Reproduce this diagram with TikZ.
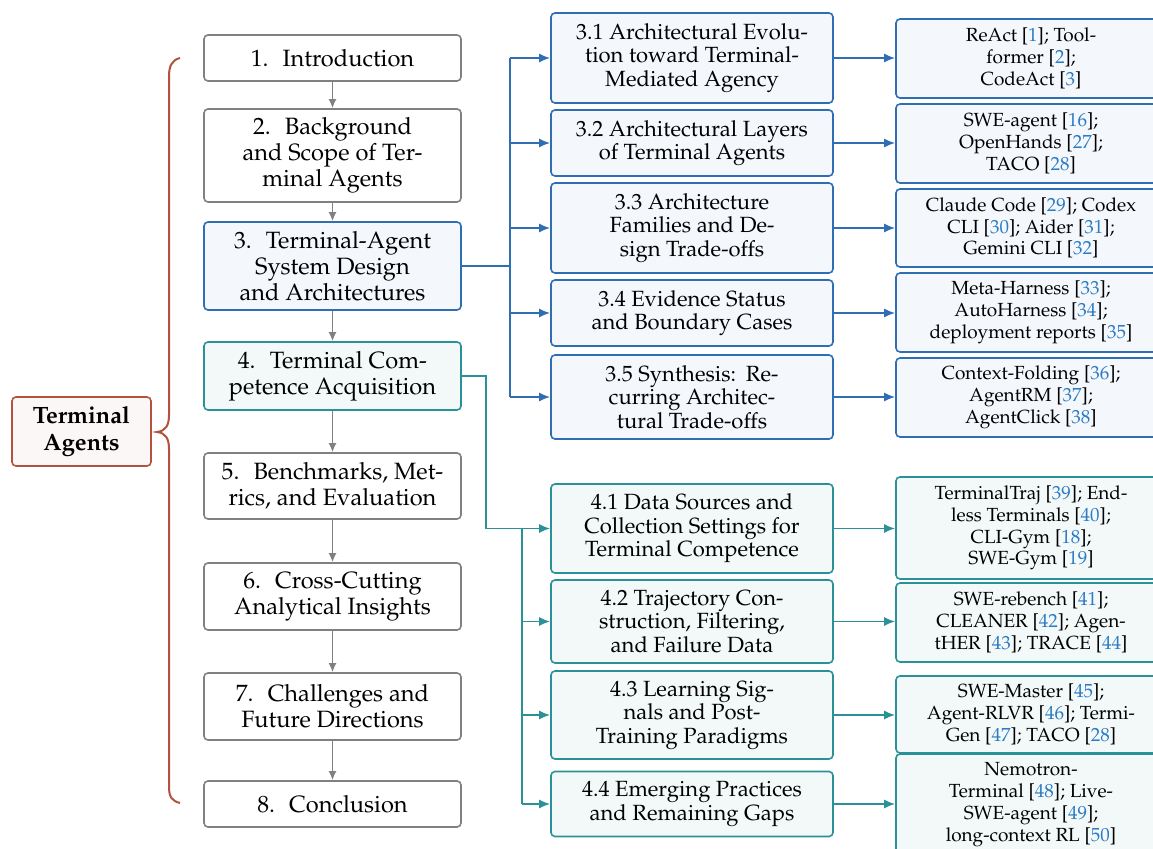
\documentclass[tikz,border=0pt]{standalone}
\usepackage[T1]{fontenc}
\usepackage{mathpazo}
\usetikzlibrary{arrows.meta}

\definecolor{grayline}{HTML}{808080}
\definecolor{blueline}{HTML}{2F6EB2}
\definecolor{bluefill}{HTML}{F4F8FD}
\definecolor{tealline}{HTML}{2A9199}
\definecolor{tealfill}{HTML}{F3F9F9}
\definecolor{rootline}{HTML}{B3533F}
\definecolor{rootfill}{HTML}{FBF7F6}
\definecolor{citeblue}{HTML}{2C7BC4}

\newcommand{\rf}[1]{[\textcolor{citeblue}{#1}]}
\newcommand{\numgap}{\hspace{0.6em}}

\begin{document}
\begin{tikzpicture}[x=0.5pt,y=-0.5pt,
  box/.style={rectangle, rounded corners=2pt, line width=0.8pt, align=center, inner sep=0pt},
  mainbox/.style={box, draw=grayline, fill=white, minimum width=128.5pt, font=\fontsize{11.8}{13}\selectfont},
  bluemain/.style={mainbox, draw=blueline, fill=bluefill},
  tealmain/.style={mainbox, draw=tealline, fill=tealfill},
  subbox/.style={box, minimum width=141pt, font=\fontsize{11}{11.75}\selectfont},
  bluesub/.style={subbox, draw=blueline, fill=bluefill},
  tealsub/.style={subbox, draw=tealline, fill=tealfill},
  refbox/.style={box, minimum width=135pt, font=\fontsize{9.5}{10.9}\selectfont},
  blueref/.style={refbox, draw=blueline, fill=bluefill},
  tealref/.style={refbox, draw=tealline, fill=tealfill},
  rootbox/.style={box, draw=rootline, fill=rootfill, minimum width=69.5pt, minimum height=34.5pt, font=\fontsize{11.8}{13.5}\selectfont\bfseries},
  tip/.style={-{Latex[length=5.5pt,width=4.5pt]}},
  flow/.style={-{Latex[length=4.5pt,width=4pt]}, draw=grayline, line width=0.8pt},
  bluelink/.style={draw=blueline, line width=0.9pt},
  teallink/.style={draw=tealline, line width=0.9pt},
]
\useasboundingbox (0,0) rectangle (1153,849);
\clip (0,0) rectangle (1153,849);

% main chapter column
\node[mainbox, minimum height=23pt]   (n1) at (332.5,58)   {1.\numgap Introduction};
\node[mainbox, minimum height=46.5pt] (n2) at (332.5,155.5) {2.\numgap Background\\and Scope of Ter-\\minal Agents};
\node[bluemain, minimum height=44pt]  (n3) at (332.5,266)  {3.\numgap Terminal-Agent\\System Design\\and Architectures};
\node[tealmain, minimum height=34pt]  (n4) at (332.5,376)  {4.\numgap Terminal Com-\\petence Acquisition};
\node[mainbox, minimum height=33pt]   (n5) at (332.5,486)  {5.\numgap Benchmarks, Met-\\rics, and Evaluation};
\node[mainbox, minimum height=33.5pt] (n6) at (332.5,596.5) {6.\numgap Cross-Cutting\\Analytical Insights};
\node[mainbox, minimum height=33.5pt] (n7) at (332.5,706.5) {7.\numgap Challenges and\\Future Directions};
\node[mainbox, minimum height=23pt]   (n8) at (332.5,804)  {8.\numgap Conclusion};

\foreach \a/\b in {n1/n2,n2/n3,n3/n4,n4/n5,n5/n6,n6/n7,n7/n8}
  \draw[flow] (\a.south) -- (\b.north);

% root label and brace
\node[rootbox] (root) at (81.5,431.5) {Terminal\\Agents};
\draw[rootline, line width=1pt]
  (180,58) .. controls (172,60) and (169,66) .. (169,76) -- (169,415)
  .. controls (169,425) and (166,431) .. (157,432)
  .. controls (166,433) and (169,439) .. (169,449) -- (169,787)
  .. controls (169,797) and (172,801) .. (180,803);

% section 3 subsections
\node[bluesub, minimum height=45pt] (s31) at (692,58)  {3.1 Architectural Evolu-\\tion toward Terminal-\\Mediated Agency};
\node[bluesub, minimum height=33pt] (s32) at (692,143) {3.2 Architectural Layers\\of Terminal Agents};
\node[bluesub, minimum height=45pt] (s33) at (692,228) {3.3 Architecture\\Families and De-\\sign Trade-offs};
\node[bluesub, minimum height=33pt] (s34) at (692,313) {3.4 Evidence Status\\and Boundary Cases};
\node[bluesub, minimum height=42pt] (s35) at (692,397) {3.5 Synthesis:\hspace{0.45em}Re-\\curring Architec-\\tural Trade-offs};

% section 4 subsections
\node[tealsub, minimum height=44.5pt] (s41) at (692,528.5) {4.1 Data Sources and\\Collection Settings for\\Terminal Competence};
\node[tealsub, minimum height=41.5pt] (s42) at (692,621.5) {4.2 Trajectory Con-\\struction, Filtering,\\and Failure Data};
\node[tealsub, minimum height=44pt]   (s43) at (692,715)   {4.3 Learning Sig-\\nals and Post-\\Training Paradigms};
\node[tealsub, minimum height=32.5pt] (s44) at (692,804)   {4.4 Emerging Practices\\and Remaining Gaps};

% representative works
\node[blueref, minimum height=39.5pt] (r31) at (1031,58.5)  {ReAct \rf{1}; Tool-\\former \rf{2};\\CodeAct \rf{3}};
\node[blueref, minimum height=39.5pt] (r32) at (1031,143.5) {SWE-agent \rf{16};\\OpenHands \rf{27};\\TACO \rf{28}};
\node[blueref, minimum height=39pt]   (r33) at (1031,228)   {Claude Code \rf{29}; Codex\\CLI \rf{30}; Aider \rf{31};\\Gemini CLI \rf{32}};
\node[blueref, minimum height=39.5pt] (r34) at (1031,312.5) {Meta-Harness \rf{33};\\AutoHarness \rf{34};\\deployment reports \rf{35}};
\node[blueref, minimum height=39.5pt] (r35) at (1031,397.5) {Context-Folding \rf{36};\\AgentRM \rf{37};\\AgentClick \rf{38}};
\node[tealref, minimum height=51pt]   (r41) at (1031,528)   {TerminalTraj \rf{39}; End-\\less Terminals \rf{40};\\CLI-Gym \rf{18};\\SWE-Gym \rf{19}};
\node[tealref, minimum height=39.5pt] (r42) at (1031,622.5) {SWE-rebench \rf{41};\\CLEANER \rf{42}; Agen-\\tHER \rf{43}; TRACE \rf{44}};
\node[tealref, minimum height=38.5pt] (r43) at (1031,714.5) {SWE-Master \rf{45};\\Agent-RLVR \rf{46}; Termi-\\Gen \rf{47}; TACO \rf{28}};
\node[tealref, minimum height=50.5pt] (r44) at (1031,804.5) {Nemotron-\\Terminal \rf{48}; Live-\\SWE-agent \rf{49};\\long-context RL \rf{50}};

% section 3 connectors
\coordinate (bt) at (510,0);
\draw[bluelink] (n3.east) -- (n3.east -| bt);
\draw[bluelink] (s31.west -| bt) -- (s35.west -| bt);
\foreach \s in {31,32,33,34,35} {
  \draw[bluelink, tip] (s\s.west -| bt) -- (s\s.west);
  \draw[bluelink, tip] (s\s.east) -- (s\s.east -| r\s.west);
}

% section 4 connectors
\coordinate (ta) at (486,0);
\coordinate (tb) at (522,0);
\draw[teallink, tip] (n4.east) -| (ta |- s41.west) -- (s41.west);
\draw[teallink] (s41.west -| tb) -- (s44.west -| tb);
\foreach \s in {42,43,44}
  \draw[teallink, tip] (s\s.west -| tb) -- (s\s.west);
\foreach \s in {41,42,43,44}
  \draw[teallink, tip] (s\s.east) -- (s\s.east -| r\s.west);
\end{tikzpicture}
\end{document}
